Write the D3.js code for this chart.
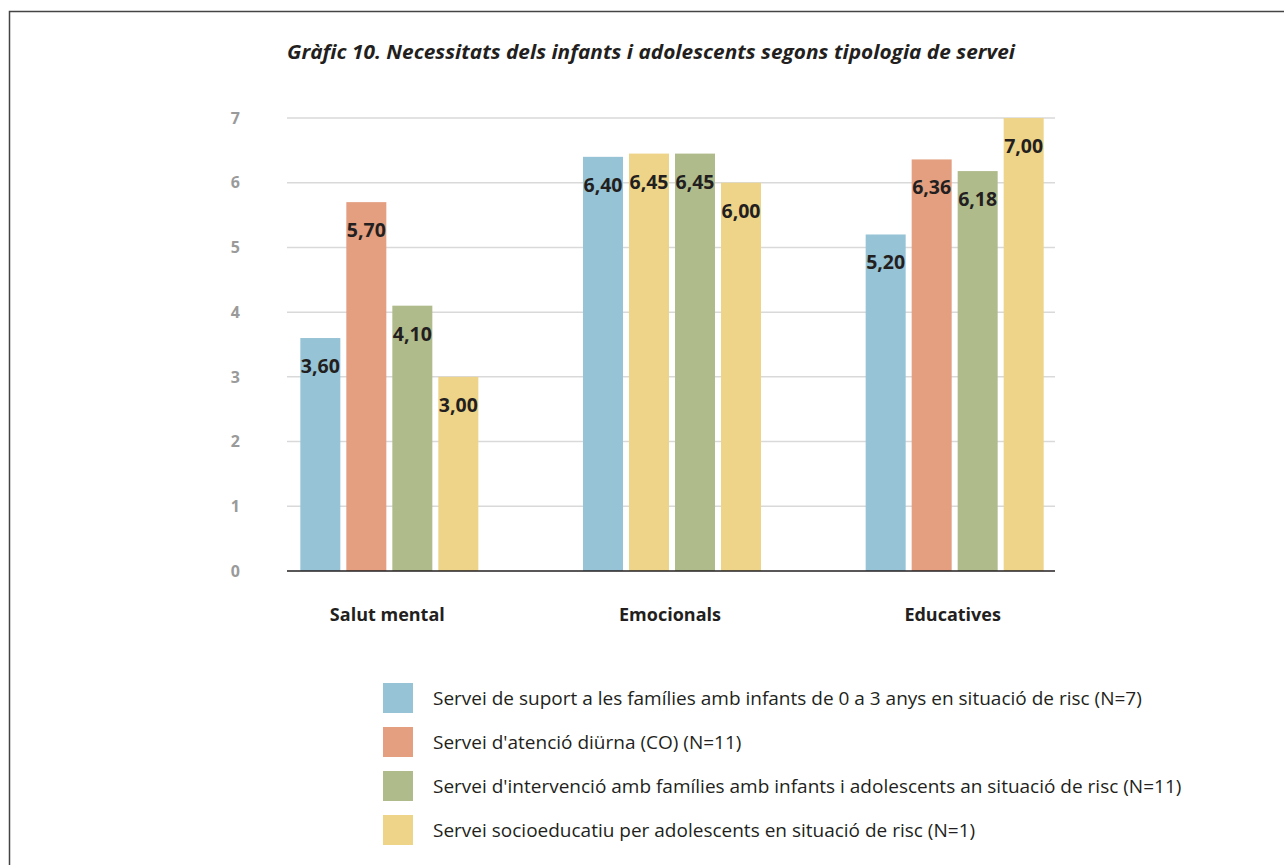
<!DOCTYPE html>
<html><head><meta charset="utf-8">
<script src="https://cdn.jsdelivr.net/npm/d3@7"></script>
<style>body{margin:0;background:#fff}svg{display:block}</style>
</head><body>
<svg id="chart" width="1284" height="865"></svg>
<script>
const title = "Gràfic 10. Necessitats dels infants i adolescents segons tipologia de servei";
const categories = ["Salut mental", "Emocionals", "Educatives"];
const seriesNames = [
  "Servei de suport a les famílies amb infants de 0 a 3 anys en situació de risc (N=7)",
  "Servei d'atenció diürna (CO) (N=11)",
  "Servei d'intervenció amb famílies amb infants i adolescents an situació de risc (N=11)",
  "Servei socioeducatiu per adolescents en situació de risc (N=1)"
];
const suport0a3 = [3.60, 6.40, 5.20];
const atencioDiurna = [5.70, 6.45, 6.36];
const intervencio = [4.10, 6.45, 6.18];
const socioeducatiu = [3.00, 6.00, 7.00];
const yTicks = [0, 1, 2, 3, 4, 5, 6, 7];
const colors = ["#96c3d6", "#e39f80", "#b0bb8c", "#eed488"];
// in the original, the second bar of "Emocionals" is drawn in the yellow colour
const colorOverrides = {"1-1": "#eed488"};

const seriesValues = [suport0a3, atencioDiurna, intervencio, socioeducatiu];
const svg = d3.select("#chart");
const fontBold = "'Open Sans', 'Noto Sans', sans-serif";

// frame
svg.append("path").attr("d", "M9.5,865 L9.5,11.5 L1284,11.5")
  .attr("fill", "none").attr("stroke", "#444").attr("stroke-width", 1.5);

// title
svg.append("text").attr("x", 287).attr("y", 59)
  .attr("font-family", fontBold).attr("font-weight", 700).attr("font-style", "italic")
  .attr("font-size", 19.5).attr("fill", "#231f20")
  .attr("textLength", 728).attr("lengthAdjust", "spacingAndGlyphs")
  .text(title);

const y = d3.scaleLinear().domain([0, 7]).range([571, 118]);
const x0 = d3.scaleBand().domain(categories).range([248, 1096]).padding(0);
const x1 = d3.scaleBand().domain(d3.range(4)).range([0, 178]).paddingInner(6 / 46);

// gridlines
svg.append("g").selectAll("line").data(yTicks.filter(t => t > 0)).join("line")
  .attr("x1", 287).attr("x2", 1055).attr("y1", d => y(d)).attr("y2", d => y(d))
  .attr("stroke", "#d9d9d9").attr("stroke-width", 1.5);

// y tick labels
svg.append("g").selectAll("text").data(yTicks).join("text")
  .attr("x", 240).attr("y", d => y(d)).attr("dy", "0.36em")
  .attr("text-anchor", "end").attr("font-family", fontBold).attr("font-weight", 700)
  .attr("font-size", 16).attr("fill", "#9a9a9a").text(d => d);

// bars
const barData = [];
categories.forEach((c, ci) => seriesValues.forEach((vals, si) => barData.push({c, ci, si, v: vals[ci]})));
const gBars = svg.append("g");
gBars.selectAll("rect").data(barData).join("rect")
  .attr("x", d => x0(d.c) + x0.bandwidth() / 2 - 89 + x1(d.si))
  .attr("width", x1.bandwidth())
  .attr("y", d => y(d.v)).attr("height", d => y(0) - y(d.v))
  .attr("fill", d => colorOverrides[d.ci + "-" + d.si] || colors[d.si]);

const fmt = v => v.toFixed(2).replace(".", ",");
gBars.selectAll("text").data(barData).join("text")
  .attr("x", d => x0(d.c) + x0.bandwidth() / 2 - 89 + x1(d.si) + x1.bandwidth() / 2)
  .attr("y", d => y(d.v) + 35)
  .attr("text-anchor", "middle").attr("font-family", fontBold).attr("font-weight", 700)
  .attr("font-size", 19.5).attr("fill", "#231f20").text(d => fmt(d.v));

// baseline
svg.append("line").attr("x1", 287).attr("x2", 1055).attr("y1", y(0)).attr("y2", y(0))
  .attr("stroke", "#231f20").attr("stroke-width", 1.5);

// category labels
svg.append("g").selectAll("text").data(categories).join("text")
  .attr("x", d => x0(d) + x0.bandwidth() / 2 - 2).attr("y", 621)
  .attr("text-anchor", "middle").attr("font-family", fontBold).attr("font-weight", 700)
  .attr("font-size", 18).attr("fill", "#231f20").text(d => d);

// legend
const lg = svg.append("g").selectAll("g").data(seriesNames).join("g")
  .attr("transform", (d, i) => `translate(383,${683 + i * 44})`);
lg.append("rect").attr("width", 30).attr("height", 30).attr("fill", (d, i) => colors[i]);
lg.append("text").attr("x", 50).attr("y", 15).attr("dy", "0.36em")
  .attr("font-family", "'Open Sans', 'Noto Sans', sans-serif").attr("font-size", 19)
  .attr("fill", "#231f20").text(d => d);
</script>
</body></html>
